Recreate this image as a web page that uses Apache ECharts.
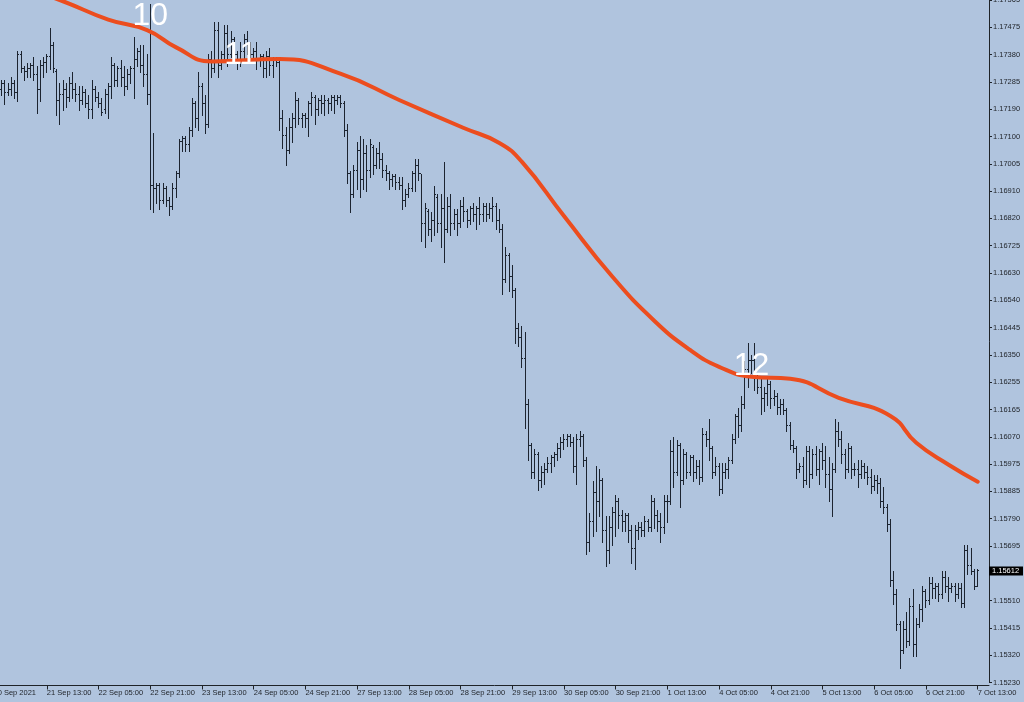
<!DOCTYPE html>
<html><head><meta charset="utf-8">
<script src="https://cdn.jsdelivr.net/npm/echarts@6/dist/echarts.min.js"></script>
<style>html,body{margin:0;padding:0;background:#B0C4DE;}#c{width:1024px;height:702px;}</style>
</head><body><div id="c"></div>
<script>
// OHLC hourly bars EURUSD: [open, high, low, close]
const bars = [
[1.1726,1.1729,1.1724,1.1728],[1.1728,1.1729,1.1721,1.1725],[1.1725,1.1728,1.1724,1.1726],[1.1726,1.1730,1.1724,1.1728],[1.1728,1.1729,1.1723,1.1725],
[1.1725,1.1739,1.1722,1.1738],[1.1738,1.1739,1.1732,1.1733],[1.1733,1.1734,1.1729,1.1732],[1.1732,1.1735,1.1730,1.1733],[1.1733,1.1735,1.1730,1.1734],
[1.1734,1.1737,1.1729,1.1731],[1.1731,1.1734,1.1718,1.1726],[1.1726,1.1736,1.1722,1.1734],[1.1734,1.1737,1.1730,1.1735],[1.1735,1.1738,1.1732,1.1737],
[1.1737,1.1747,1.1733,1.1741],[1.1741,1.1742,1.1732,1.1733],[1.1732,1.1733,1.1717,1.1722],[1.1722,1.1728,1.1714,1.1724],[1.1724,1.1729,1.1719,1.1726],
[1.1726,1.1728,1.1720,1.1723],[1.1723,1.1730,1.1722,1.1728],[1.1728,1.1732,1.1723,1.1726],[1.1726,1.1728,1.1722,1.1724],[1.1724,1.1727,1.1719,1.1722],
[1.1722,1.1727,1.1721,1.1725],[1.1725,1.1726,1.1720,1.1721],[1.1721,1.1724,1.1716,1.1719],[1.1719,1.1729,1.1716,1.1726],[1.1726,1.1727,1.1722,1.1723],
[1.1723,1.1725,1.1720,1.1721],[1.1721,1.1723,1.1717,1.1718],[1.1719,1.1726,1.1718,1.1724],[1.1724,1.1728,1.1716,1.1727],[1.1727,1.1737,1.1723,1.1734],
[1.1734,1.1735,1.1727,1.1729],[1.1729,1.1734,1.1727,1.1733],[1.1733,1.1736,1.1727,1.1730],[1.1730,1.1734,1.1724,1.1727],[1.1727,1.1733,1.1726,1.1731],
[1.1731,1.1734,1.1728,1.1733],[1.1733,1.1744,1.1723,1.1736],[1.1736,1.1740,1.1734,1.1739],[1.1739,1.1741,1.1732,1.1734],[1.1734,1.1741,1.1727,1.1731],
[1.1731,1.1738,1.1721,1.1724],[1.1724,1.1755,1.1685,1.1693],[1.1693,1.1711,1.1684,1.1692],[1.1692,1.1694,1.1687,1.1693],[1.1693,1.1694,1.1685,1.1688],
[1.1688,1.1694,1.1687,1.1692],[1.1692,1.1693,1.1686,1.1688],[1.1688,1.1689,1.1683,1.1686],[1.1686,1.1694,1.1685,1.1692],[1.1692,1.1698,1.1689,1.1697],
[1.1697,1.1709,1.1696,1.1708],[1.1708,1.1710,1.1705,1.1709],[1.1709,1.1710,1.1705,1.1707],[1.1707,1.1713,1.1705,1.1712],[1.1712,1.1723,1.1710,1.1721],
[1.1721,1.1722,1.1713,1.1716],[1.1716,1.1732,1.1712,1.1727],[1.1727,1.1728,1.1717,1.1721],[1.1721,1.1724,1.1711,1.1714],[1.1714,1.1738,1.1713,1.1736],
[1.1736,1.1739,1.1730,1.1733],[1.1733,1.1749,1.1732,1.1746],[1.1746,1.1749,1.1730,1.1734],[1.1734,1.1739,1.1733,1.1738],[1.1738,1.1748,1.1736,1.1745],
[1.1745,1.1748,1.1734,1.1738],[1.1738,1.1746,1.1737,1.1743],[1.1743,1.1744,1.1737,1.1738],[1.1738,1.1739,1.1733,1.1736],[1.1736,1.1742,1.1734,1.1739],
[1.1739,1.1745,1.1735,1.1743],[1.1743,1.1746,1.1738,1.1739],[1.1739,1.1742,1.1736,1.1738],[1.1738,1.1740,1.1737,1.1739],[1.1739,1.1742,1.1733,1.1736],
[1.1736,1.1738,1.1734,1.1737],[1.1737,1.1738,1.1730,1.1733],[1.1733,1.1739,1.1730,1.1737],[1.1737,1.1740,1.1731,1.1734],[1.1734,1.1737,1.1730,1.1736],
[1.1736,1.1737,1.1734,1.1735],[1.1735,1.1737,1.1712,1.1716],[1.1716,1.1719,1.1706,1.1710],[1.1710,1.1713,1.1700,1.1705],[1.1705,1.1716,1.1704,1.1713],
[1.1713,1.1718,1.1708,1.1716],[1.1716,1.1725,1.1713,1.1722],[1.1722,1.1723,1.1714,1.1716],[1.1716,1.1718,1.1713,1.1717],[1.1717,1.1718,1.1713,1.1716],
[1.1716,1.1722,1.1710,1.1721],[1.1721,1.1725,1.1717,1.1723],[1.1723,1.1724,1.1714,1.1719],[1.1719,1.1723,1.1717,1.1722],[1.1722,1.1724,1.1718,1.1721],
[1.1721,1.1724,1.1717,1.1722],[1.1722,1.1723,1.1718,1.1721],[1.1721,1.1724,1.1719,1.1723],[1.1723,1.1724,1.1718,1.1722],[1.1722,1.1724,1.1721,1.1723],
[1.1723,1.1724,1.1720,1.1721],[1.1721,1.1722,1.1710,1.1712],[1.1712,1.1714,1.1694,1.1697],[1.1697,1.1698,1.1684,1.1690],[1.1690,1.1700,1.1689,1.1698],
[1.1698,1.1708,1.1692,1.1705],[1.1705,1.1710,1.1689,1.1695],[1.1695,1.1709,1.1692,1.1704],[1.1704,1.1707,1.1691,1.1698],[1.1698,1.1709,1.1696,1.1707],
[1.1706,1.1707,1.1697,1.1700],[1.1700,1.1706,1.1699,1.1704],[1.1704,1.1708,1.1699,1.1702],[1.1702,1.1704,1.1696,1.1698],[1.1698,1.1700,1.1695,1.1697],
[1.1697,1.1698,1.1692,1.1695],[1.1695,1.1697,1.1693,1.1696],[1.1696,1.1697,1.1692,1.1694],[1.1694,1.1696,1.1692,1.1693],[1.1693,1.1696,1.1685,1.1688],
[1.1688,1.1692,1.1686,1.1690],[1.1690,1.1694,1.1689,1.1692],[1.1692,1.1698,1.1691,1.1697],[1.1697,1.1702,1.1691,1.1700],[1.1700,1.1702,1.1695,1.1697],
[1.1697,1.1697,1.1674,1.1680],[1.1680,1.1687,1.1672,1.1685],[1.1684,1.1685,1.1676,1.1678],[1.1678,1.1684,1.1674,1.1681],[1.1681,1.1693,1.1676,1.1690],
[1.1689,1.1690,1.1677,1.1680],[1.1680,1.1690,1.1672,1.1685],[1.1685,1.1701,1.1667,1.1678],[1.1678,1.1689,1.1677,1.1686],[1.1686,1.1690,1.1676,1.1680],
[1.1680,1.1685,1.1678,1.1683],[1.1683,1.1685,1.1676,1.1680],[1.1680,1.1688,1.1679,1.1686],[1.1686,1.1689,1.1681,1.1684],[1.1684,1.1685,1.1679,1.1681],
[1.1681,1.1686,1.1680,1.1685],[1.1685,1.1687,1.1681,1.1683],[1.1683,1.1686,1.1678,1.1685],[1.1685,1.1689,1.1680,1.1683],[1.1683,1.1687,1.1681,1.1686],
[1.1686,1.1687,1.1681,1.1683],[1.1683,1.1687,1.1682,1.1685],[1.1685,1.1689,1.1681,1.1686],[1.1686,1.1687,1.1678,1.1681],[1.1681,1.1685,1.1677,1.1678],
[1.1678,1.1680,1.1656,1.1661],[1.1661,1.1672,1.1660,1.1669],[1.1669,1.1670,1.1657,1.1662],[1.1662,1.1666,1.1655,1.1657],[1.1657,1.1658,1.1639,1.1644],
[1.1644,1.1646,1.1638,1.1641],[1.1641,1.1645,1.1631,1.1634],[1.1634,1.1643,1.1610,1.1618],[1.1618,1.1620,1.1599,1.1604],[1.1604,1.1605,1.1593,1.1595],
[1.1595,1.1603,1.1593,1.1601],[1.1601,1.1602,1.1589,1.1592],[1.1592,1.1597,1.1590,1.1595],[1.1595,1.1598,1.1591,1.1596],[1.1596,1.1600,1.1595,1.1598],
[1.1598,1.1601,1.1595,1.1600],[1.1600,1.1602,1.1597,1.1601],[1.1601,1.1605,1.1599,1.1603],[1.1603,1.1607,1.1600,1.1605],[1.1605,1.1608,1.1603,1.1606],
[1.1606,1.1608,1.1604,1.1607],[1.1607,1.1608,1.1604,1.1605],[1.1605,1.1607,1.1595,1.1597],[1.1597,1.1608,1.1591,1.1606],[1.1606,1.1609,1.1604,1.1607],
[1.1607,1.1608,1.1597,1.1599],[1.1599,1.1600,1.1567,1.1571],[1.1571,1.1581,1.1568,1.1578],[1.1578,1.1592,1.1573,1.1588],[1.1588,1.1597,1.1575,1.1585],
[1.1585,1.1596,1.1580,1.1592],[1.1592,1.1593,1.1571,1.1575],[1.1575,1.1580,1.1563,1.1568],[1.1568,1.1580,1.1564,1.1576],[1.1576,1.1583,1.1570,1.1581],
[1.1581,1.1587,1.1573,1.1585],[1.1585,1.1586,1.1576,1.1580],[1.1580,1.1582,1.1575,1.1578],[1.1578,1.1581,1.1575,1.1580],[1.1580,1.1581,1.1571,1.1575],
[1.1575,1.1577,1.1564,1.1569],[1.1569,1.1577,1.1562,1.1575],[1.1575,1.1578,1.1572,1.1576],[1.1576,1.1578,1.1573,1.1575],[1.1575,1.1580,1.1573,1.1578],
[1.1578,1.1579,1.1575,1.1576],[1.1576,1.1587,1.1575,1.1585],[1.1585,1.1586,1.1576,1.1580],[1.1580,1.1582,1.1575,1.1578],[1.1578,1.1581,1.1571,1.1576],
[1.1576,1.1587,1.1574,1.1585],[1.1585,1.1587,1.1578,1.1585],[1.1585,1.1606,1.1584,1.1602],[1.1602,1.1607,1.1590,1.1595],[1.1595,1.1606,1.1594,1.1604],
[1.1604,1.1605,1.1583,1.1592],[1.1592,1.1603,1.1591,1.1601],[1.1601,1.1602,1.1593,1.1595],[1.1595,1.1601,1.1594,1.1600],[1.1600,1.1601,1.1592,1.1595],
[1.1595,1.1599,1.1593,1.1597],[1.1597,1.1599,1.1591,1.1593],[1.1593,1.1610,1.1592,1.1608],[1.1608,1.1609,1.1604,1.1606],[1.1606,1.1613,1.1599,1.1603],
[1.1603,1.1604,1.1593,1.1595],[1.1595,1.1600,1.1594,1.1597],[1.1597,1.1598,1.1587,1.1589],[1.1589,1.1598,1.1588,1.1595],[1.1595,1.1598,1.1593,1.1596],
[1.1596,1.1600,1.1593,1.1599],[1.1599,1.1608,1.1598,1.1606],[1.1606,1.1615,1.1605,1.1614],[1.1614,1.1617,1.1607,1.1611],[1.1611,1.1621,1.1609,1.1618],
[1.1618,1.1633,1.1617,1.1630],[1.1630,1.1639,1.1624,1.1633],[1.1633,1.1635,1.1629,1.1633],[1.1633,1.1639,1.1623,1.1627],[1.1627,1.1629,1.1622,1.1624],
[1.1624,1.1627,1.1615,1.1620],[1.1620,1.1624,1.1616,1.1622],[1.1622,1.1627,1.1618,1.1625],[1.1625,1.1626,1.1617,1.1620],[1.1620,1.1623,1.1618,1.1621],
[1.1621,1.1622,1.1615,1.1617],[1.1617,1.1620,1.1615,1.1618],[1.1618,1.1620,1.1615,1.1616],[1.1616,1.1617,1.1609,1.1611],[1.1611,1.1612,1.1603,1.1604],
[1.1604,1.1606,1.1602,1.1603],[1.1603,1.1604,1.1593,1.1596],[1.1596,1.1598,1.1595,1.1597],[1.1597,1.1600,1.1590,1.1592],[1.1592,1.1604,1.1591,1.1602],
[1.1602,1.1604,1.1590,1.1594],[1.1594,1.1603,1.1593,1.1601],[1.1601,1.1604,1.1594,1.1596],[1.1596,1.1603,1.1591,1.1602],[1.1602,1.1605,1.1596,1.1599],
[1.1599,1.1604,1.1590,1.1594],[1.1594,1.1600,1.1585,1.1589],[1.1589,1.1598,1.1580,1.1596],[1.1596,1.1613,1.1595,1.1609],[1.1609,1.1612,1.1604,1.1606],
[1.1606,1.1609,1.1598,1.1601],[1.1601,1.1603,1.1593,1.1596],[1.1596,1.1605,1.1595,1.1603],[1.1603,1.1604,1.1593,1.1596],[1.1596,1.1598,1.1594,1.1596],
[1.1596,1.1599,1.1590,1.1594],[1.1594,1.1599,1.1593,1.1597],[1.1597,1.1598,1.1593,1.1595],[1.1595,1.1597,1.1591,1.1593],[1.1593,1.1596,1.1588,1.1590],
[1.1590,1.1594,1.1589,1.1592],[1.1592,1.1594,1.1588,1.1591],[1.1591,1.1593,1.1583,1.1585],[1.1585,1.1590,1.1581,1.1583],[1.1583,1.1584,1.1575,1.1577],
[1.1577,1.1579,1.1556,1.1558],[1.1558,1.1561,1.1550,1.1553],[1.1553,1.1555,1.1541,1.1543],[1.1543,1.1544,1.1528,1.1534],[1.1534,1.1544,1.1533,1.1541],
[1.1541,1.1547,1.1535,1.1537],[1.1537,1.1552,1.1536,1.1549],[1.1549,1.1555,1.1532,1.1536],[1.1536,1.1545,1.1532,1.1543],[1.1543,1.1550,1.1542,1.1548],
[1.1548,1.1556,1.1544,1.1554],[1.1554,1.1555,1.1549,1.1551],[1.1551,1.1559,1.1550,1.1557],[1.1557,1.1559,1.1552,1.1555],[1.1555,1.1557,1.1552,1.1556],
[1.1556,1.1557,1.1551,1.1553],[1.1553,1.1561,1.1552,1.1559],[1.1559,1.1561,1.1554,1.1556],[1.1556,1.1559,1.1551,1.1555],[1.1555,1.1557,1.1554,1.1556],
[1.1556,1.1557,1.1551,1.1553],[1.1553,1.1557,1.1552,1.1555],[1.1555,1.1557,1.1549,1.1550],[1.1550,1.1570,1.1549,1.1568],[1.1568,1.1570,1.1560,1.1563],
[1.1563,1.1569,1.1560,1.1561],[1.1561,1.1562,1.1555,1.1556],[1.1556,1.1562,1.1556,1.15612]
];
// Moving average: bar index -> value
const maIdx = [0,18,33,45,54,65,86,105,123,143,154,161,174,189,202,213,222,232,244,259,275,283,293,302];
const maVal = [1.17632,1.17565,1.17498,1.17462,1.17403,1.17355,1.17363,1.17312,1.17223,1.17127,1.17076,1.17011,1.16826,1.16618,1.16467,1.16368,1.16310,1.16276,1.16269,1.16204,1.16142,1.16050,1.15975,1.15917];
// Price scale tick labels (bottom to top)
const yTickLabels = ['1.15230','1.15320','1.15415','1.15510','1.15605','1.15695','1.15790','1.15885','1.15975','1.16070','1.16165','1.16255','1.16350','1.16445','1.16540','1.16630','1.16725','1.16820','1.16910','1.17005','1.17100','1.17190','1.17285','1.17380','1.17475','1.17565'];
const yMin = 1.15230, yStep = 0.000934;
// Time scale tick labels
const firstTimeLabel = '20 Sep 2021';
const xTickLabels = ['21 Sep 13:00','22 Sep 05:00','22 Sep 21:00','23 Sep 13:00','24 Sep 05:00','24 Sep 21:00','27 Sep 13:00','28 Sep 05:00','28 Sep 21:00','29 Sep 13:00','30 Sep 05:00','30 Sep 21:00','1 Oct 13:00','4 Oct 05:00','4 Oct 21:00','5 Oct 13:00','6 Oct 05:00','6 Oct 21:00','7 Oct 13:00'];
const xFirstTick = 14, xTickEvery = 16;
const slotCount = 306; // bars plus empty right margin
const lastPrice = 1.15612;
// Swing annotations
const noteText = ['10','11','12'];
const noteIdx = [46,74,232];
const notePrice = [1.17509,1.17377,1.16313];

const categories = Array.from({length: slotCount}, (_, i) => String(i));
const isTick = (i) => i >= xFirstTick && (i - xFirstTick) % xTickEvery === 0 && (i - xFirstTick) / xTickEvery < xTickLabels.length;
const barColor = '#1c2430';
const axisColor = '#1e2328';
const font = 'Liberation Sans, Arial, sans-serif';

const chart = echarts.init(document.getElementById('c'), null, {renderer: 'canvas'});
chart.setOption({
  animation: false,
  backgroundColor: '#B0C4DE',
  grid: {left: 0, right: 35, top: 0, bottom: 19.5, containLabel: false, outerBoundsMode: 'none'},
  xAxis: {
    type: 'category', data: categories, boundaryGap: true, offset: 3,
    axisLine: {show: true, lineStyle: {color: axisColor, width: 1}},
    axisTick: {show: true, alignWithLabel: true, length: 4, interval: (i) => isTick(i), lineStyle: {color: axisColor}},
    axisLabel: {show: true, interval: (i) => isTick(i), align: 'left', margin: 3, fontSize: 7.5, fontFamily: font, color: '#23272d',
      formatter: (v, i) => isTick(i) ? xTickLabels[(i - xFirstTick) / xTickEvery] : ''},
    splitLine: {show: false}
  },
  yAxis: {
    type: 'value', position: 'right', min: yMin, max: yMin + (yTickLabels.length - 1) * yStep, interval: yStep,
    axisLine: {show: true, lineStyle: {color: axisColor, width: 1}},
    axisTick: {show: true, inside: false, length: 3, lineStyle: {color: axisColor}},
    axisLabel: {show: true, margin: 4, fontSize: 7.5, fontFamily: font, color: '#23272d',
      formatter: (v) => { const k = Math.round((v - yMin) / yStep); return yTickLabels[k] || ''; }},
    splitLine: {show: false}
  },
  graphic: [{type: 'text', x: -6.5, y: 693, style: {text: firstTimeLabel, fill: '#23272d', font: '7.5px ' + font, verticalAlign: 'middle'}}],
  series: [
    {
      type: 'custom', name: 'EURUSD', z: 2,
      data: bars.map((b, i) => [i, b[0], b[1], b[2], b[3]]),
      encode: {x: 0, y: [1, 2, 3, 4]},
      renderItem: (params, api) => {
        const i = api.value(0);
        const pO = api.coord([i, api.value(1)]), pH = api.coord([i, api.value(2)]);
        const pL = api.coord([i, api.value(3)]), pC = api.coord([i, api.value(4)]);
        const c = Math.round(pH[0] - 0.5);
        const yh = Math.round(pH[1]), yl = Math.round(pL[1]);
        const yo = Math.round(pO[1] - 0.5), yc = Math.round(pC[1] - 0.5);
        const st = {fill: barColor};
        return {type: 'group', children: [
          {type: 'rect', shape: {x: c, y: yh, width: 1, height: Math.max(1, yl - yh + 1)}, style: st},
          {type: 'rect', shape: {x: c - 1, y: yo, width: 1, height: 1}, style: st},
          {type: 'rect', shape: {x: c + 1, y: yc, width: 1, height: 1}, style: st}
        ]};
      }
    },
    {
      type: 'line', name: 'MA', z: 3, smooth: 0.5, showSymbol: false, symbol: 'none',
      data: maIdx.map((i, k) => [i, maVal[k]]),
      lineStyle: {color: '#EC4D1E', width: 4, cap: 'round', join: 'round'}
    },
    {
      type: 'custom', name: 'notes', z: 5,
      data: noteIdx.map((i, k) => [i, notePrice[k], k]),
      encode: {x: 0, y: 1},
      renderItem: (params, api) => {
        const p = api.coord([api.value(0), api.value(1)]);
        return {type: 'text', x: p[0], y: p[1], style: {text: noteText[api.value(2)], fill: '#ffffff', fontSize: 32, fontFamily: font, align: 'center', verticalAlign: 'middle'}};
      }
    },
    {
      type: 'custom', name: 'price', z: 10, clip: false,
      data: [[bars.length - 1, lastPrice]],
      encode: {x: 0, y: 1},
      renderItem: (params, api) => {
        const y = api.coord([api.value(0), api.value(1)])[1];
        const x = params.coordSys.x + params.coordSys.width;
        return {type: 'group', children: [
          {type: 'rect', shape: {x: x, y: Math.round(y) - 4.5, width: 34, height: 9}, style: {fill: '#000000'}},
          {type: 'text', x: x + 3, y: y, style: {text: api.value(1).toFixed(5), fill: '#ffffff', fontSize: 7.5, fontFamily: font, verticalAlign: 'middle'}}
        ]};
      }
    }
  ]
});
</script>
</body></html>
